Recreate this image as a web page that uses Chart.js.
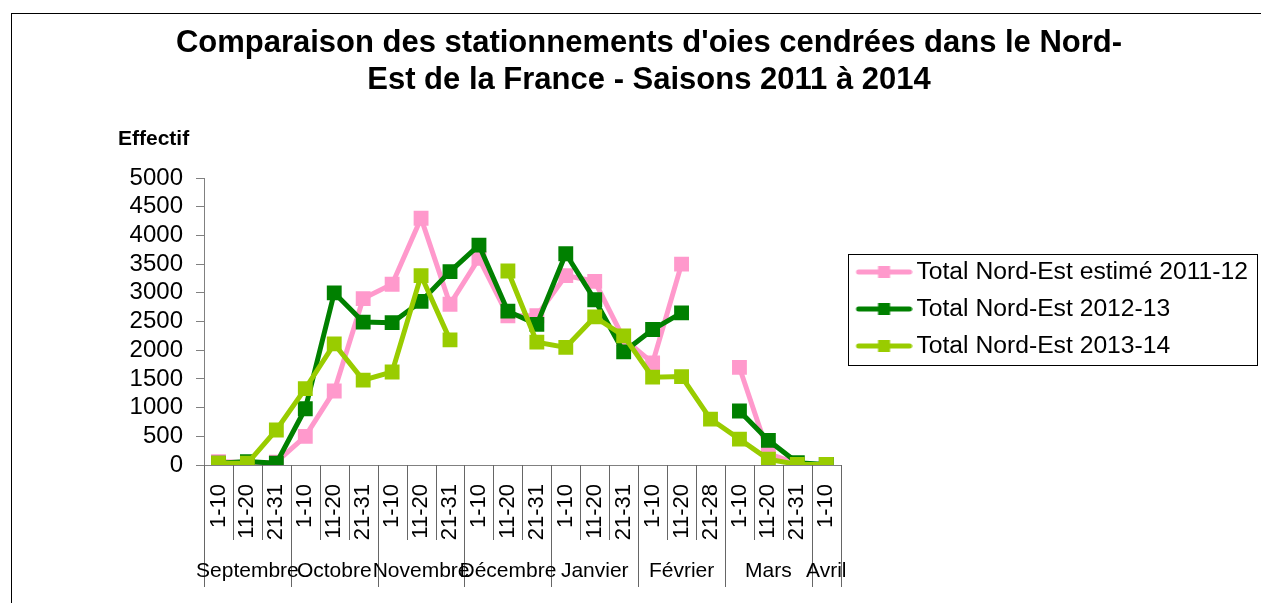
<!DOCTYPE html>
<html>
<head>
<meta charset="utf-8">
<script src="https://cdn.jsdelivr.net/npm/chart.js@4"></script>
<style>
  body { margin: 0; background: #fff; }
  #wrap { position: relative; width: 1261px; height: 603px; }
  #frame { position: absolute; left: 11px; top: 13px; right: 0; bottom: 0;
           border-left: 1px solid #000; border-top: 1px solid #000; pointer-events: none; }
</style>
</head>
<body>
<div id="wrap">
  <canvas id="geese-chart" width="1261" height="603"></canvas>
  <div id="frame"></div>
</div>
<script>
// Decades of each month, Sept -> early April
var categories = ['1-10', '11-20', '21-31', '1-10', '11-20', '21-31', '1-10', '11-20', '21-31',
                  '1-10', '11-20', '21-31', '1-10', '11-20', '21-31', '1-10', '11-20', '21-28',
                  '1-10', '11-20', '21-31', '1-10'];
var months = ['Septembre', 'Octobre', 'Novembre', 'Décembre', 'Janvier', 'Février', 'Mars', 'Avril'];
var monthSpans = [3, 3, 3, 3, 3, 3, 3, 1];

// Counts per decade (null = no count)
var season2011 = [60, 40, 50, 500, 1290, 2900, 3150, 4300, 2800, 3600, 2600, 2600,
                  3300, 3200, 2200, 1780, 3500, null, 1700, 200, 20, 0];
var season2012 = [30, 60, 30, 980, 3000, 2490, 2480, 2850, 3370, 3830, 2680, 2450,
                  3680, 2880, 1970, 2360, 2650, null, 940, 430, 40, 10];
var season2013 = [30, 30, 610, 1330, 2110, 1480, 1620, 3300, 2180, null, 3380, 2140,
                  2050, 2580, 2250, 1530, 1540, 800, 450, 100, 10, 10];

var seriesNames = ['Total Nord-Est estimé 2011-12', 'Total Nord-Est 2012-13', 'Total Nord-Est 2013-14'];
var seriesColors = ['#FF99CC', '#008000', '#99CC00'];

var FONT = '"Liberation Sans", Arial, sans-serif';

// little line + square icon for the legend (transparent margin on the left nudges it right)
function legendIcon(color) {
    var c = document.createElement('canvas');
    c.width = 68; c.height = 14;
    var g = c.getContext('2d');
    g.strokeStyle = color;
    g.lineWidth = 5;
    g.lineCap = 'round';
    g.beginPath(); g.moveTo(14, 7); g.lineTo(65, 7); g.stroke();
    g.fillStyle = color;
    g.fillRect(33.5, 1, 12, 12);
    return c;
}

// separators under the x axis, month names, "Effectif", legend frame
var extras = {
    id: 'extras',
    beforeLayout: function (chart) {
        // let the legend be wider than the default half-of-half limit
        var lg = chart.legend;
        if (lg && !lg._wide) {
            var orig = lg.update;
            lg.update = function (maxWidth, maxHeight, margins) {
                return orig.call(this, 430, maxHeight, margins);
            };
            lg._wide = true;
        }
    },
    afterDraw: function (chart) {
        var ctx = chart.ctx;
        var x = chart.scales.x;
        var step = x.getPixelForValue(1) - x.getPixelForValue(0);
        var start = x.getPixelForValue(0) - step / 2;
        var top = x.top;

        var monthStarts = {};
        var acc = 0;
        monthSpans.forEach(function (n) { monthStarts[acc] = true; acc += n; });
        monthStarts[acc] = true;

        ctx.save();
        ctx.strokeStyle = '#666';
        ctx.lineWidth = 1;
        for (var i = 0; i <= categories.length; i++) {
            var px = Math.round(start + i * step) + 0.5;
            ctx.beginPath();
            ctx.moveTo(px, top);
            ctx.lineTo(px, top + (monthStarts[i] ? 122 : 75));
            ctx.stroke();
        }

        ctx.fillStyle = '#000';
        ctx.font = '21px ' + FONT;
        ctx.textAlign = 'center';
        ctx.textBaseline = 'middle';
        var k = 0;
        months.forEach(function (m, j) {
            var cx = start + (k + monthSpans[j] / 2) * step;
            ctx.fillText(m, cx, 571);
            k += monthSpans[j];
        });

        ctx.font = 'bold 21px ' + FONT;
        ctx.textAlign = 'left';
        ctx.fillText('Effectif', 118, 139);

        var lg = chart.legend;
        var hb = lg.legendHitBoxes;
        if (hb && hb.length) {
            var last = hb[hb.length - 1];
            ctx.strokeStyle = '#000';
            ctx.strokeRect(Math.round(lg.left + 7) + 0.5, Math.round(hb[0].top - 6) + 0.5,
                           Math.round(lg.right - lg.left - 8), Math.round(last.top + last.height - hb[0].top + 12));
        }
        ctx.restore();
    }
};

var data = [season2011, season2012, season2013];

var ctx = document.getElementById('geese-chart').getContext('2d');
var chart = new Chart(ctx, {
    type: 'line',
    data: {
        labels: categories,
        datasets: data.map(function (values, i) {
            return {
                label: seriesNames[i],
                data: values,
                borderColor: seriesColors[i],
                backgroundColor: seriesColors[i],
                pointBackgroundColor: seriesColors[i],
                pointBorderColor: seriesColors[i],
                borderWidth: 5,
                pointStyle: 'rect',
                pointRadius: 10.5,
                pointBorderWidth: 0,
                spanGaps: false,
                tension: 0,
                order: 2 - i
            };
        })
    },
    options: {
        responsive: false,
        animation: false,
        layout: { padding: { left: 40, right: 3, top: 15, bottom: 0 } },
        scales: {
            x: {
                offset: true,
                grid: { display: false },
                border: { color: '#808080' },
                ticks: {
                    minRotation: 90, maxRotation: 90, autoSkip: false,
                    font: { family: FONT, size: 22 }, color: '#000', padding: 11
                },
                afterFit: function (s) { s.height = 138; }
            },
            y: {
                min: 0,
                max: 5000,
                grid: { drawOnChartArea: false, tickLength: 8, color: '#808080' },
                border: { color: '#808080' },
                ticks: {
                    stepSize: 500, autoSkip: false,
                    font: { family: FONT, size: 24 }, color: '#000', padding: 13,
                    callback: function (v) { return String(v); }
                },
                afterFit: function (s) { s.width = 164; }
            }
        },
        plugins: {
            title: {
                display: true,
                text: ["Comparaison des stationnements d'oies cendrées dans le Nord-",
                       'Est de la France - Saisons 2011 à 2014'],
                font: { family: FONT, size: 31, weight: 'bold', lineHeight: 1.194 },
                color: '#000',
                padding: { top: 9.5, bottom: 79.5 }
            },
            legend: {
                position: 'right',
                align: 'center',
                labels: {
                    font: { family: FONT, size: 24.7 },
                    color: '#000',
                    usePointStyle: true,
                    pointStyleWidth: 51,
                    boxHeight: 14,
                    padding: 12.3,
                    sort: function (a, b) { return a.datasetIndex - b.datasetIndex; },
                    generateLabels: function (chart) {
                        var items = Chart.defaults.plugins.legend.labels.generateLabels(chart);
                        items.forEach(function (it) { it.pointStyle = legendIcon(seriesColors[it.datasetIndex]); });
                        return items;
                    }
                }
            },
            tooltip: { enabled: false }
        }
    },
    plugins: [extras]
});
</script>
</body>
</html>
